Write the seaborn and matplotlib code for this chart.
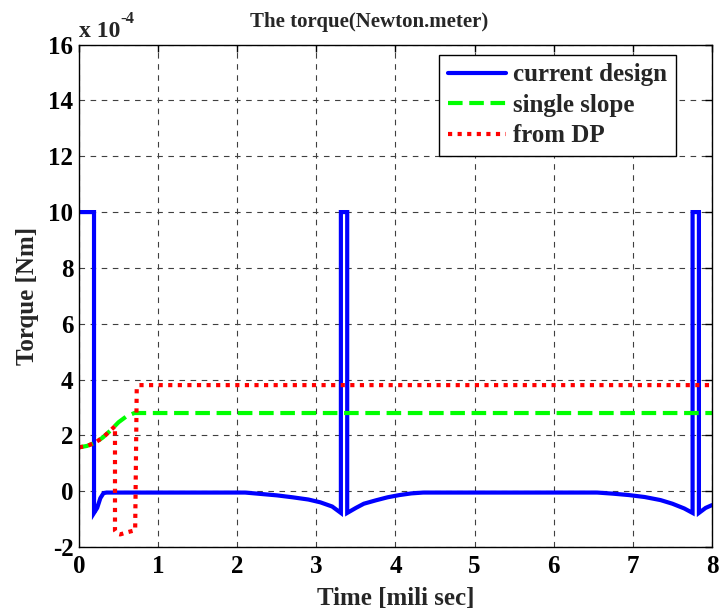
import matplotlib
matplotlib.use("Agg")
import matplotlib.pyplot as plt
import pandas as pd
import seaborn as sns

# Torque traces (units of 1e-4 N.m) against time in milliseconds
t_current = [0.00, 0.19, 0.19, 0.23, 0.27, 0.31, 0.35, 2.10, 2.30, 2.50, 2.70,
             2.90, 3.05, 3.20, 3.31, 3.31, 3.39, 3.39, 3.50, 3.60, 3.75, 3.90,
             4.05, 4.20, 4.35, 6.55, 6.75, 6.95, 7.15, 7.35, 7.50, 7.65, 7.755,
             7.755, 7.835, 7.835, 7.92, 8.00]
torque_current = [10.0, 10.0, -0.78, -0.60, -0.25, -0.07, -0.05, -0.05, -0.10,
                  -0.15, -0.22, -0.30, -0.40, -0.55, -0.78, 10.0, 10.0, -0.78,
                  -0.60, -0.45, -0.33, -0.22, -0.14, -0.08, -0.05, -0.05, -0.09,
                  -0.14, -0.21, -0.32, -0.45, -0.62, -0.78, 10.0, 10.0, -0.78,
                  -0.60, -0.50]

t_slope = [0.00, 0.10, 0.20, 0.30, 0.40, 0.50, 0.60, 0.70, 8.00]
torque_slope = [1.57, 1.62, 1.73, 1.92, 2.18, 2.47, 2.68, 2.80, 2.80]

t_dp = [0.00, 0.10, 0.20, 0.30, 0.40, 0.455, 0.455, 0.48, 0.52, 0.60, 0.71,
        0.73, 0.76, 8.00]
torque_dp = [1.57, 1.62, 1.73, 1.92, 2.18, 2.33, -1.42, -1.52, -1.55, -1.48,
             -1.40, 3.72, 3.80, 3.80]

series_names = ["current design", "single slope", "from DP"]
x_ticks = [0, 1, 2, 3, 4, 5, 6, 7, 8]
y_ticks = [-2, 0, 2, 4, 6, 8, 10, 12, 14, 16]

sns.set_theme(style="white")
plt.rcParams["font.family"] = ["Liberation Serif", "DejaVu Serif"]
plt.rcParams["font.weight"] = "bold"

fig = plt.figure(figsize=(7.22, 6.13), dpi=100)
ax = fig.add_axes([0.1094, 0.1077, 0.8767, 0.8195])

df_current = pd.DataFrame({"t": t_current, "torque": torque_current})
df_slope = pd.DataFrame({"t": t_slope, "torque": torque_slope})
df_dp = pd.DataFrame({"t": t_dp, "torque": torque_dp})

sns.lineplot(data=df_current, x="t", y="torque", estimator=None, sort=False,
             color="#0000ff", lw=3.0, label=series_names[0], ax=ax,
             solid_joinstyle="miter")
sns.lineplot(data=df_slope, x="t", y="torque", estimator=None, sort=False,
             color="#00ff00", lw=3.0, linestyle=(0, (3.5, 1.6)),
             label=series_names[1], ax=ax)
sns.lineplot(data=df_dp, x="t", y="torque", estimator=None, sort=False,
             color="#ff0000", lw=3.0, linestyle=(0, (1.0, 1.3)),
             dash_capstyle="butt", label=series_names[2], ax=ax)

ax.set_xlim(0, 8)
ax.set_ylim(-2, 16)
ax.set_xticks(x_ticks)
ax.set_yticks(y_ticks)
ax.set_xticklabels([str(v) for v in x_ticks])
ax.set_yticklabels([str(v) for v in y_ticks])

ax.grid(True, color="#404040", linestyle=(0, (5, 5)), linewidth=0.8)
ax.tick_params(axis="both", direction="in", length=5, width=1,
               top=True, right=True, labelsize=18, colors="black")
ax.tick_params(axis="x", pad=6)
ax.tick_params(axis="y", pad=4)
for lab in ax.get_xticklabels() + ax.get_yticklabels():
    lab.set_fontweight("bold")
for sp in ax.spines.values():
    sp.set_color("black")
    sp.set_linewidth(1.0)
    sp.set_visible(True)

ax.set_xlabel("Time [mili sec]", fontsize=18, fontweight="bold", labelpad=6)
ax.set_ylabel("Torque [Nm]", fontsize=18, fontweight="bold", labelpad=7)

# title, placed from its left edge
fig.text(250 / 722, 1 - 27 / 613, "The torque(Newton.meter)", fontsize=15,
         fontweight="bold", ha="left", va="baseline")

# exponent annotation above the y axis
fig.text(79 / 722, 1 - 37 / 613, "x 10", fontsize=17, fontweight="bold",
         ha="left", va="baseline")
fig.text(120 / 722, 1 - 23 / 613, "-4", fontsize=12, fontweight="bold",
         ha="left", va="baseline")

leg = ax.legend(loc="upper right", bbox_to_anchor=(0.943, 0.980), fontsize=18,
                frameon=True, fancybox=False, framealpha=1, edgecolor="black",
                handlelength=2.3, handletextpad=0.3, labelspacing=0.3,
                borderpad=0.35, borderaxespad=0)
leg.get_frame().set_linewidth(1.0)
for txt in leg.get_texts():
    txt.set_fontweight("bold")

fig.savefig("out.png", dpi=100)
